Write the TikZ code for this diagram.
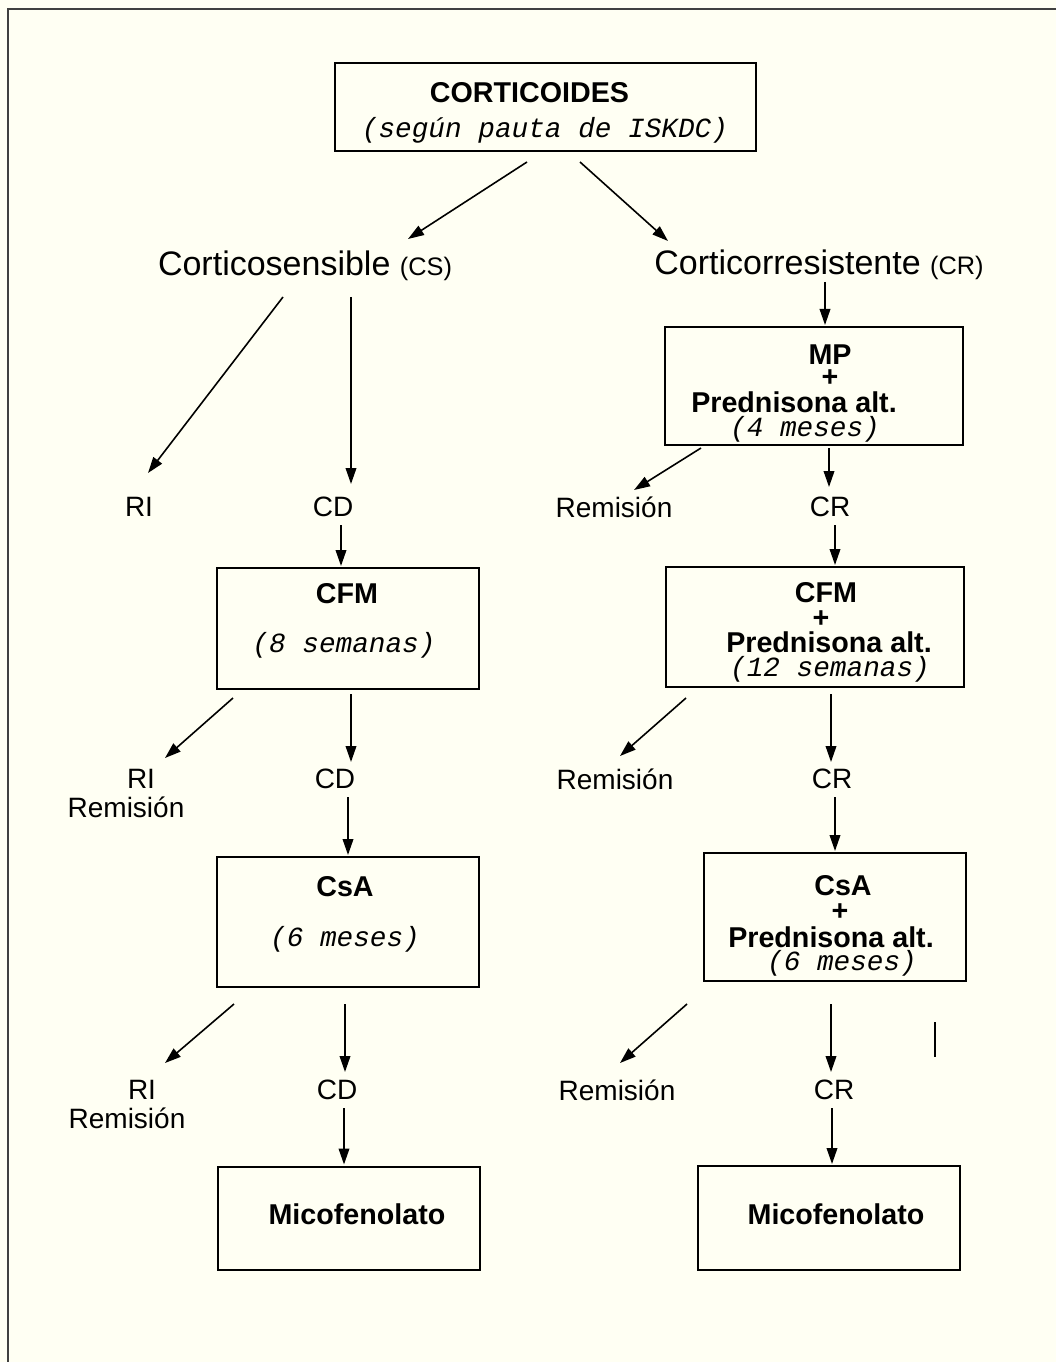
\documentclass[tikz,border=0pt]{standalone}
\usepackage{fontspec}
\setmainfont{Liberation Sans}
\newfontfamily\courfont{Liberation Mono}
\usetikzlibrary{arrows.meta,calc}
\definecolor{paper}{HTML}{FFFFF3}

\tikzset{
  lbl/.style={font=\fontsize{21}{24}\selectfont, inner sep=0pt},
  head/.style={font=\fontsize{25.5}{28}\selectfont, inner sep=0pt},
  bold/.style={font=\fontsize{21.5}{24}\selectfont\bfseries, inner sep=0pt},
  dur/.style={font=\fontsize{20.8}{24}\selectfont\courfont\itshape, inner sep=0pt},
  box/.style 2 args={draw, line width=1.4pt, inner sep=0pt,
    minimum width=#1*0.75pt, minimum height=#2*0.75pt},
  arr/.style={line width=1.2pt, -{Triangle[length=12pt,width=8pt]}},
}

\begin{document}
\begin{tikzpicture}[x=0.75pt,y=-0.75pt]
    \fill[paper] (0,0) rectangle (1056,1362);
    \useasboundingbox (0,0) rectangle (1056,1362);
    \draw[line width=1.5pt, black!75] (1056,9) -- (8,9) -- (8,1362);

    % top
    \node[box={421}{88}] (top) at (545.5,107) {};
    \node[bold] (topa) at (529.5,93) {CORTICOIDES};
    \node[dur] (topb) at (545,130) {(según pauta de ISKDC)};

    \node[head] (cs) at (305,266) {Corticosensible {\fontsize{19}{22}\selectfont(CS)}};
    \node[head] (cr) at (819,265) {Corticorresistente {\fontsize{19}{22}\selectfont(CR)}};

    % corticosensible branch
    \node[lbl] (ri1) at (139,507) {RI};
    \node[lbl] (cd1) at (333,507) {CD};
    \node[box={262}{121}] (cfm) at (348,628.5) {};
    \node[bold] (cfma) at (347,594) {CFM};
    \node[dur] (cfmb) at (344,645) {(8 semanas)};
    \node[lbl] (ri2) at (141,779) {RI};
    \node[lbl] (ri2b) at (126,807) {Remisión};
    \node[lbl] (cd2) at (335,779) {CD};
    \node[box={262}{130}] (csa) at (348,922) {};
    \node[bold] (csaa) at (345,887) {CsA};
    \node[dur] (csab) at (345,939) {(6 meses)};
    \node[lbl] (ri3) at (142,1090) {RI};
    \node[lbl] (ri3b) at (127,1118) {Remisión};
    \node[lbl] (cd3) at (337,1090) {CD};
    \node[box={262}{103}] (mic1) at (349,1218.5) {};
    \node[bold] (mic1a) at (357,1214) {Micofenolato};

    % corticorresistente branch
    \node[box={298}{118}] (mp) at (814,386) {};
    \node[bold] (mpa) at (830,355) {MP};
    \node[bold] (mpb) at (830,378) {+};
    \node[bold] (mpc) at (794,402) {Prednisona alt.};
    \node[dur] (mpd) at (805,429) {(4 meses)};
    \node[lbl] (rem1) at (614,507) {Remisión};
    \node[lbl] (crr1) at (830,507) {CR};
    \node[box={298}{120}] (cfm2) at (815,627) {};
    \node[bold] (cfm2a) at (826,593) {CFM};
    \node[bold] (cfm2b) at (821,619) {+};
    \node[bold] (cfm2c) at (829,642) {Prednisona alt.};
    \node[dur] (cfm2d) at (830,669) {(12 semanas)};
    \node[lbl] (rem2) at (615,779) {Remisión};
    \node[lbl] (crr2) at (832,779) {CR};
    \node[box={262}{128}] (csa2) at (835,917) {};
    \node[bold] (csa2a) at (843,886) {CsA};
    \node[bold] (csa2b) at (840,912) {+};
    \node[bold] (csa2c) at (831,937) {Prednisona alt.};
    \node[dur] (csa2d) at (842,963) {(6 meses)};
    \node[lbl] (rem3) at (617,1090) {Remisión};
    \node[lbl] (crr3) at (834,1090) {CR};
    \node[box={262}{104}] (mic2) at (829,1218) {};
    \node[bold] (mic2a) at (836,1214) {Micofenolato};

    % arrows
    \draw[arr] ($(top)+(-18.5,55)$) -- ($(cs)+(103,-27)$);
    \draw[arr] ($(top)+(34.5,55)$) -- ($(cr)+(-151,-24)$);

    \draw[arr] ($(cs)+(-22,31)$) -- ($(ri1)+(9,-34)$);
    \draw[arr] ($(cs)+(46,31)$) -- ($(cd1)+(18,-23)$);
    \draw[arr] ($(cd1)+(8,18)$) -- ($(cfm)+(-7,-62.5)$);
    \draw[arr] ($(cfm)+(-115,69.5)$) -- ($(ri2)+(24,-21)$);
    \draw[arr] ($(cfm)+(3,65.5)$) -- ($(cd2)+(16,-17)$);
    \draw[arr] ($(cd2)+(13,18)$) -- ($(csa)+(0,-67)$);
    \draw[arr] ($(csa)+(-114,82)$) -- ($(ri3)+(23,-27)$);
    \draw[arr] ($(csa)+(-3,82)$) -- ($(cd3)+(8,-18)$);
    \draw[arr] ($(cd3)+(7,18)$) -- ($(mic1)+(-5,-54)$);

    \draw[arr] ($(cr)+(6,17)$) -- ($(mp)+(11,-61)$);
    \draw[arr] ($(mp)+(-113,62)$) -- ($(rem1)+(20,-17)$);
    \draw[arr] ($(mp)+(15,62)$) -- ($(crr1)+(-1,-20)$);
    \draw[arr] ($(crr1)+(5,18)$) -- ($(cfm2)+(20,-62)$);
    \draw[arr] ($(cfm2)+(-129,71)$) -- ($(rem2)+(5,-23)$);
    \draw[arr] ($(cfm2)+(16,67)$) -- ($(crr2)+(-1,-17)$);
    \draw[arr] ($(crr2)+(3,18)$) -- ($(csa2)+(0,-66)$);
    \draw[arr] ($(csa2)+(-148,87)$) -- ($(rem3)+(3,-27)$);
    \draw[arr] ($(csa2)+(-4,87)$) -- ($(crr3)+(-3,-18)$);
    \draw[arr] ($(crr3)+(-2,18)$) -- ($(mic2)+(3,-54)$);

    \draw[line width=1.3pt] (935,1022) -- (935,1057);
\end{tikzpicture}
\end{document}
